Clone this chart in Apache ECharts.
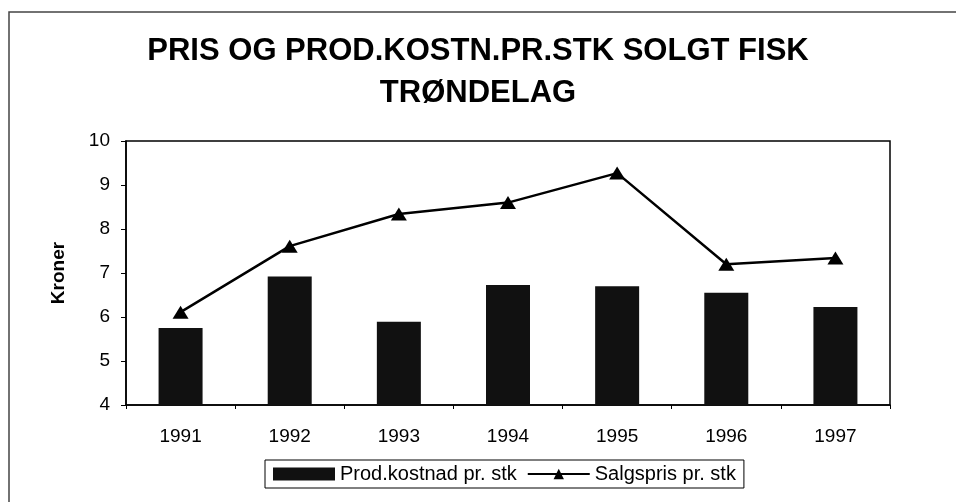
<!DOCTYPE html>
<html><head><meta charset="utf-8">
<script src="https://cdn.jsdelivr.net/npm/echarts@6/dist/echarts.min.js"></script>
<style>html,body{margin:0;padding:0;background:#fff}#c{width:956px;height:502px}</style>
</head><body><div id="c"></div>
<script>
const years = ['1991','1992','1993','1994','1995','1996','1997'];
const prodKostnad = [5.75, 6.92, 5.89, 6.73, 6.70, 6.55, 6.23];
const salgspris = [6.11, 7.61, 8.34, 8.60, 9.27, 7.20, 7.34];
const yTicks = [4, 5, 6, 7, 8, 9, 10];

const chart = echarts.init(document.getElementById('c'));
chart.setOption({
  backgroundColor: '#fff',
  animation: false,
  title: {
    text: 'PRIS OG PROD.KOSTN.PR.STK SOLGT FISK\nTRØNDELAG',
    left: 'center', top: 25,
    textStyle: { fontFamily: 'Liberation Sans', fontWeight: 'bold', fontSize: 31, lineHeight: 42, color: '#000' }
  },
  graphic: [
    { type: 'rect', shape: { x: 9, y: 12, width: 1000, height: 600 }, style: { fill: 'none', stroke: '#444', lineWidth: 1.5 }, silent: true },
    { type: 'text', x: 488, y: -21, style: { text: 'FIGUR 5', font: 'bold 26px "Liberation Serif"', fill: '#000', align: 'center', verticalAlign: 'top' }, silent: true }
  ],
  grid: { left: 126, right: 66, top: 141, bottom: 97, show: true, borderColor: '#000', borderWidth: 1.5, backgroundColor: 'transparent' },
  legend: {
    bottom: 14, left: 265,
    borderColor: '#000', borderWidth: 1, padding: [4, 8], itemGap: 10,
    textStyle: { fontFamily: 'Liberation Sans', fontSize: 20, color: '#000' },
    itemWidth: 62, itemHeight: 13,
    data: [
      { name: 'Prod.kostnad pr. stk', icon: 'rect' },
      { name: 'Salgspris pr. stk' }
    ]
  },
  xAxis: {
    type: 'category', data: years,
    axisLine: { lineStyle: { color: '#000', width: 1.5 } },
    axisTick: { show: true, length: 4, lineStyle: { color: '#000' } },
    axisLabel: { fontFamily: 'Liberation Sans', fontSize: 19, color: '#000', margin: 22 }
  },
  yAxis: {
    type: 'value', min: 4, max: 10, interval: 1,
    name: 'Kroner', nameLocation: 'middle', nameGap: 58,
    nameTextStyle: { fontFamily: 'Liberation Sans', fontWeight: 'bold', fontSize: 19, color: '#000' },
    axisLine: { show: true, lineStyle: { color: '#000', width: 1.5 } },
    axisTick: { show: true, length: 5, lineStyle: { color: '#000' } },
    axisLabel: { fontFamily: 'Liberation Sans', fontSize: 19, color: '#000', margin: 16,
      formatter: v => yTicks.includes(v) ? String(v) : '' },
    splitLine: { show: false }
  },
  series: [
    { name: 'Prod.kostnad pr. stk', type: 'bar', data: prodKostnad, barWidth: 44,
      itemStyle: { color: '#111' } },
    { name: 'Salgspris pr. stk', type: 'line', data: salgspris,
      symbol: 'triangle', symbolSize: [16, 13],
      lineStyle: { color: '#000', width: 2.5 }, itemStyle: { color: '#000' } }
  ]
});
</script></body></html>
